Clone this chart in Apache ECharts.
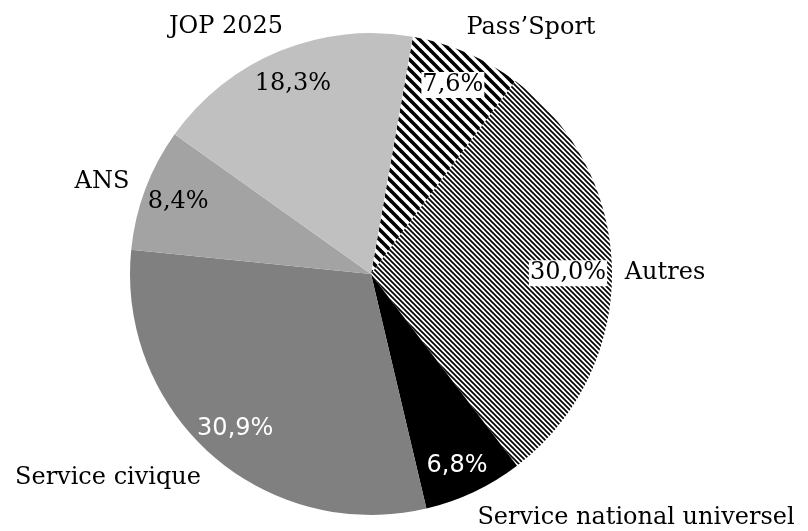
<!DOCTYPE html>
<html><head><meta charset="utf-8">
<script src="https://cdn.jsdelivr.net/npm/echarts@6/dist/echarts.min.js"></script>
<style>html,body{margin:0;padding:0;background:#fff}#c{width:808px;height:531px}</style>
</head><body><div id="c"></div>
<script>
// ---- data ----
const categories = ['Pass\u2019Sport', 'Autres', 'Service national universel', 'Service civique', 'ANS', 'JOP 2025'];
const shares = [7.6, 30.0, 6.8, 30.9, 8.4, 18.3];
// ---- label placement (text centres, px) ----
const namePos = [[531, 28], [665, 273], [636, 518], [108, 478], [102, 182], [226, 27]];
const pctOffset = [[0, 0], [-9, 0], [-2, 6], [0, 0], [0, 0], [0, 0]];

function stripePattern(tile, lw) {
  const c = document.createElement('canvas');
  c.width = tile; c.height = tile;
  const g = c.getContext('2d');
  g.fillStyle = '#fff'; g.fillRect(0, 0, tile, tile);
  g.strokeStyle = '#000'; g.lineWidth = lw; g.lineCap = 'square';
  for (const o of [-tile, 0, tile]) {
    g.beginPath(); g.moveTo(o - 2, -2); g.lineTo(o + tile + 2, tile + 2); g.stroke();
  }
  return { image: c, repeat: 'repeat' };
}
const fills = [stripePattern(10, 3.6), stripePattern(5, 1.7), '#000000', '#808080', '#a3a3a3', '#c0c0c0'];
const pctColor = ['#000', '#000', '#fff', '#fff', '#000', '#000'];
const pctFont = ['DejaVu Serif', 'DejaVu Serif', 'DejaVu Sans', 'DejaVu Sans', 'DejaVu Serif', 'DejaVu Serif'];
const pctBg = ['#fff', '#fff', 'transparent', 'transparent', 'transparent', 'transparent'];

const fmt = v => v.toFixed(1).replace('.', ',') + '%';

const chart = echarts.init(document.getElementById('c'), null, { renderer: 'canvas' });
chart.setOption({
  animation: false,
  series: [
    {
      type: 'pie', silent: true, center: [371, 274], radius: 241, startAngle: 80,
      avoidLabelOverlap: false,
      data: categories.map((n, i) => ({ name: n, value: shares[i], itemStyle: { color: fills[i] } })),
      itemStyle: { borderWidth: 0 },
      label: { show: true, position: 'outside', formatter: '{b}', fontFamily: 'DejaVu Serif', fontSize: 24, color: '#000' },
      labelLine: { show: false },
      labelLayout: p => ({ x: namePos[p.dataIndex][0], y: namePos[p.dataIndex][1], align: 'center', verticalAlign: 'middle' })
    },
    {
      type: 'pie', silent: true, center: [371, 274], radius: [165, 241], startAngle: 80,
      avoidLabelOverlap: false,
      data: categories.map((n, i) => ({
        name: n, value: shares[i],
        itemStyle: { color: 'rgba(0,0,0,0)' },
        label: { color: pctColor[i], fontFamily: pctFont[i], backgroundColor: pctBg[i], padding: [1, 1], offset: pctOffset[i] }
      })),
      label: { show: true, position: 'inside', formatter: p => fmt(p.value), fontSize: 24 },
      labelLine: { show: false }
    }
  ]
});
</script></body></html>
